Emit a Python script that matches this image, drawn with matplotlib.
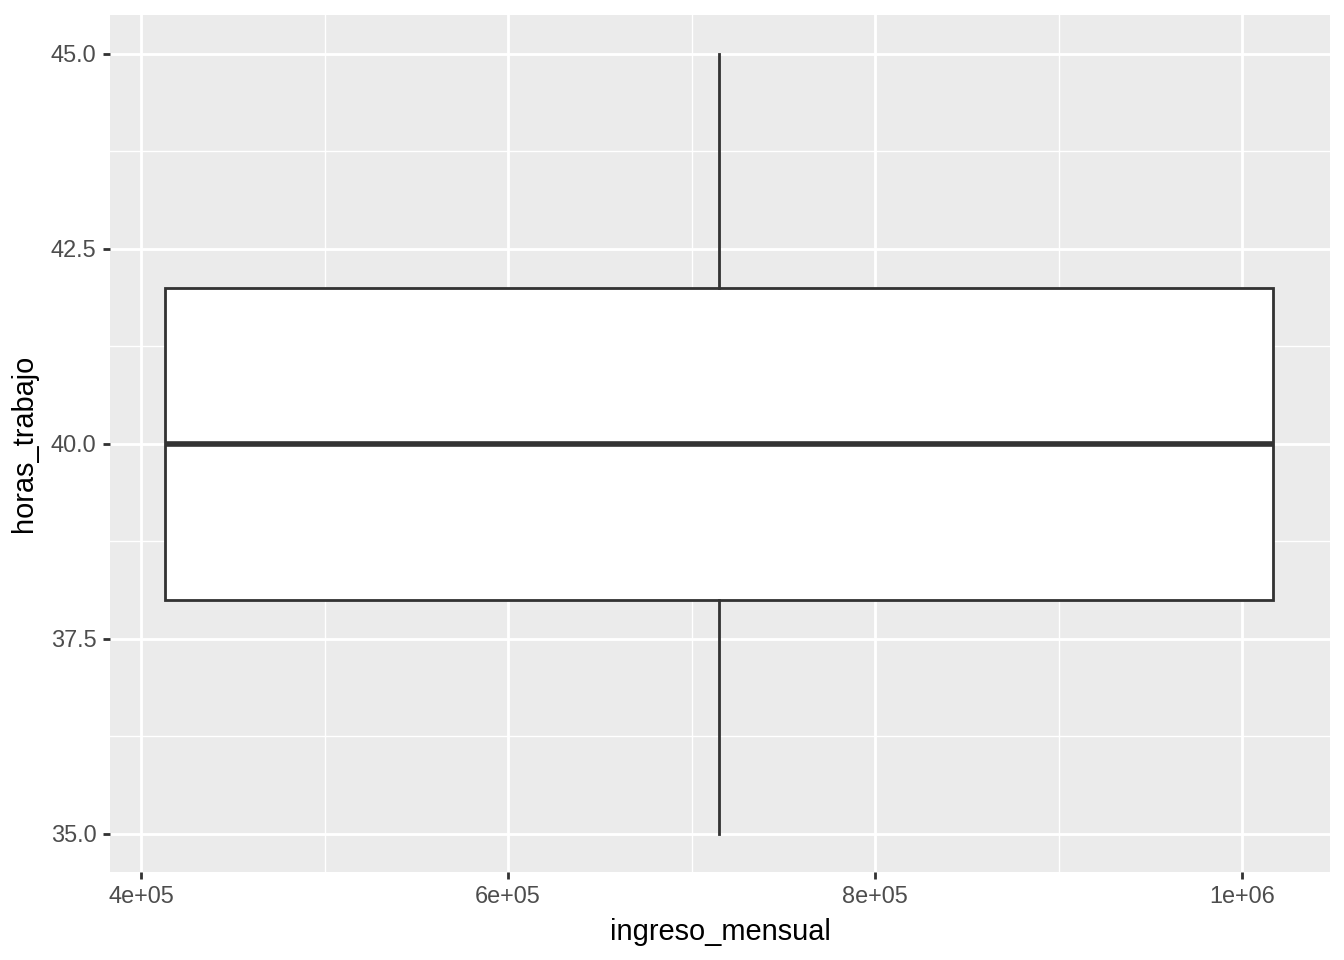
import matplotlib
matplotlib.use("Agg")
import matplotlib.pyplot as plt
from matplotlib.ticker import FixedLocator

# Box summary
x_center = 715000
box_width = 603800
whisker_low = 35.0
q1 = 38.0
median = 40.0
q3 = 42.0
whisker_high = 45.0

x_ticks = [4e5, 6e5, 8e5, 1e6]
x_tick_labels = ["4e+05", "6e+05", "8e+05", "1e+06"]
x_minor = [5e5, 7e5, 9e5]
y_ticks = [35.0, 37.5, 40.0, 42.5, 45.0]
y_tick_labels = ["35.0", "37.5", "40.0", "42.5", "45.0"]
y_minor = [36.25, 38.75, 41.25, 43.75]

plt.rcParams["font.family"] = ["Liberation Sans", "DejaVu Sans"]

fig = plt.figure(figsize=(8.96, 6.4), dpi=150)
ax = fig.add_axes([110 / 1344, 88 / 960, 1220 / 1344, 857 / 960])
ax.set_facecolor("#EBEBEB")
for s in ax.spines.values():
    s.set_visible(False)

ax.set_xlim(383100, 1047950)
ax.set_ylim(34.51, 45.5)

ax.xaxis.set_major_locator(FixedLocator(x_ticks))
ax.xaxis.set_minor_locator(FixedLocator(x_minor))
ax.yaxis.set_major_locator(FixedLocator(y_ticks))
ax.yaxis.set_minor_locator(FixedLocator(y_minor))
ax.set_xticklabels(x_tick_labels)
ax.set_yticklabels(y_tick_labels)
ax.grid(which="major", color="white", linewidth=1.35)
ax.grid(which="minor", color="white", linewidth=0.67)
ax.set_axisbelow(True)
ax.tick_params(which="major", length=3.5, width=1.35, color="#333333",
               labelcolor="#4D4D4D", labelsize=11.3, pad=3)
ax.tick_params(which="minor", length=0)

stats = [{
    "med": median, "q1": q1, "q3": q3,
    "whislo": whisker_low, "whishi": whisker_high, "fliers": [],
}]
line = dict(color="#333333", linewidth=1.35)
ax.bxp(stats, positions=[x_center], widths=[box_width], patch_artist=True,
       showcaps=False, manage_ticks=False,
       boxprops=dict(facecolor="white", edgecolor="#333333", linewidth=1.35),
       whiskerprops=line,
       medianprops=dict(color="#333333", linewidth=2.7, solid_capstyle="butt"))

ax.set_xlabel("ingreso_mensual", fontsize=13.9, color="black", labelpad=5)
ax.set_ylabel("horas_trabajo", fontsize=13.9, color="black", labelpad=6)

fig.savefig("out.png", dpi=150)
